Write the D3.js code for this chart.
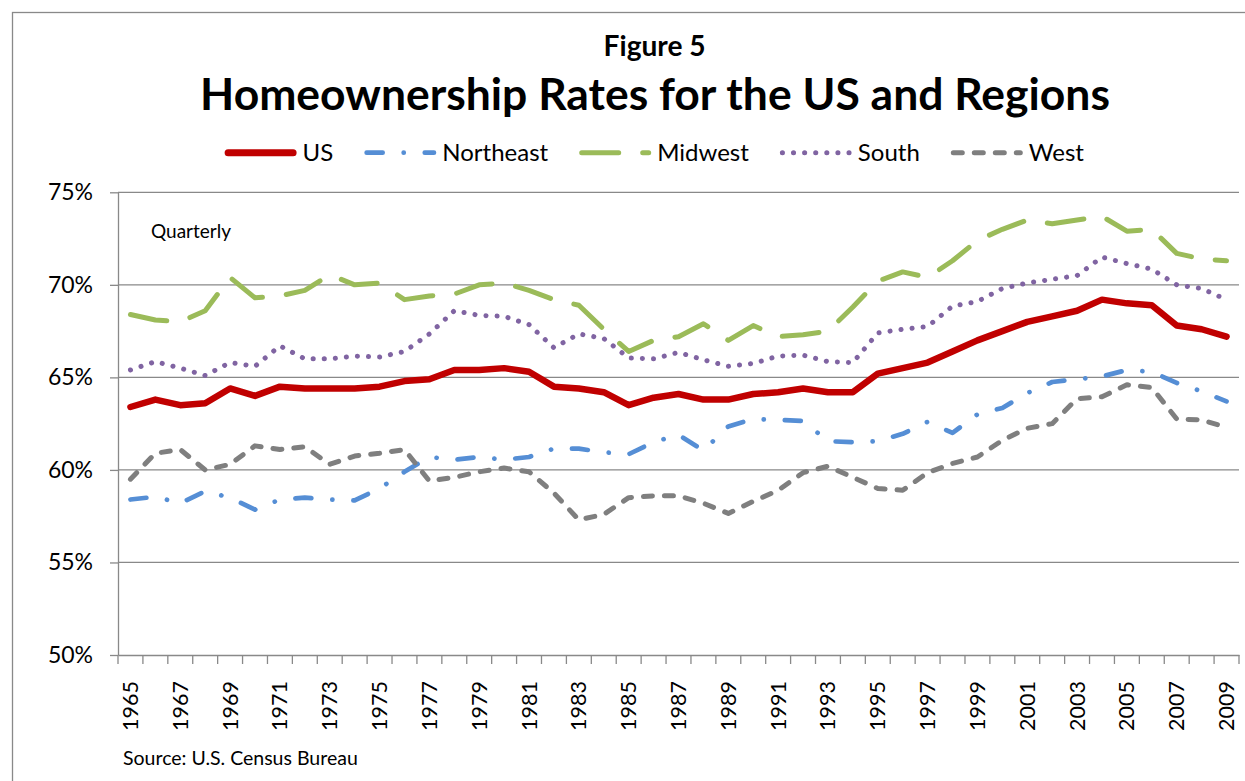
<!DOCTYPE html>
<html>
<head>
<meta charset="utf-8">
<script src="https://cdn.jsdelivr.net/npm/d3@7"></script>
<style>
  body { margin: 0; background: #fff; }
  svg { display: block; font-family: Lato, "Open Sans", sans-serif; }
</style>
</head>
<body>
<svg id="chart" width="1245" height="781"></svg>
<script>
// годы (категории оси X)
const years = [1965, 1966, 1967, 1968, 1969, 1970, 1971, 1972, 1973, 1974,
    1975, 1976, 1977, 1978, 1979, 1980, 1981, 1982, 1983, 1984,
    1985, 1986, 1987, 1988, 1989, 1990, 1991, 1992, 1993, 1994,
    1995, 1996, 1997, 1998, 1999, 2000, 2001, 2002, 2003, 2004,
    2005, 2006, 2007, 2008, 2009];

// значения рядов, %
const us = [63.4, 63.8, 63.5, 63.6, 64.4, 64.0, 64.5, 64.4, 64.4, 64.4,
    64.5, 64.8, 64.9, 65.4, 65.4, 65.5, 65.3, 64.5, 64.4, 64.2,
    63.5, 63.9, 64.1, 63.8, 63.8, 64.1, 64.2, 64.4, 64.2, 64.2,
    65.2, 65.5, 65.8, 66.4, 67.0, 67.5, 68.0, 68.3, 68.6, 69.2,
    69.0, 68.9, 67.8, 67.6, 67.2];
const northeast = [58.4, 58.55, 58.2, 58.85, 58.5, 57.85, 58.4, 58.5, 58.4, 58.35,
    59.0, 59.9, 60.7, 60.55, 60.7, 60.55, 60.7, 61.15, 61.15, 60.95,
    60.85, 61.5, 61.9, 61.05, 62.35, 62.75, 62.7, 62.65, 61.55, 61.5,
    61.55, 61.95, 62.6, 62.0, 63.0, 63.35, 64.15, 64.75, 64.9, 65.05,
    65.4, 65.3, 64.7, 64.25, 63.7];
const midwest = [68.4, 68.1, 68.0, 68.6, 70.4, 69.3, 69.4, 69.7, 70.55, 70.0,
    70.1, 69.2, 69.4, 69.5, 70.0, 70.1, 69.7, 69.2, 68.9, 67.6,
    66.4, 67.0, 67.2, 67.9, 67.0, 67.8, 67.2, 67.3, 67.5, 68.8,
    70.2, 70.7, 70.4, 71.3, 72.4, 73.0, 73.5, 73.3, 73.5, 73.7,
    72.9, 73.0, 71.7, 71.4, 71.3];
const south = [65.4, 65.85, 65.5, 65.1, 65.8, 65.6, 66.7, 66.0, 66.0, 66.15,
    66.1, 66.4, 67.35, 68.6, 68.35, 68.3, 67.85, 66.6, 67.35, 67.1,
    66.05, 66.0, 66.35, 65.95, 65.6, 65.75, 66.15, 66.2, 65.85, 65.8,
    67.4, 67.6, 67.75, 68.85, 69.1, 69.8, 70.1, 70.3, 70.5, 71.5,
    71.15, 70.85, 70.0, 69.8, 69.2];
const west = [59.5, 60.9, 61.1, 60.0, 60.3, 61.3, 61.1, 61.25, 60.3, 60.75,
    60.9, 61.1, 59.4, 59.6, 59.9, 60.1, 59.9, 58.75, 57.3, 57.6,
    58.5, 58.6, 58.6, 58.2, 57.65, 58.3, 58.9, 59.85, 60.2, 59.6,
    59.0, 58.9, 59.85, 60.35, 60.7, 61.6, 62.25, 62.5, 63.85, 63.95,
    64.6, 64.45, 62.75, 62.7, 62.3];

const seriesNames = ["US", "Northeast", "Midwest", "South", "West"];
const yTicks = [50, 55, 60, 65, 70, 75];
const yearLabels = years.filter((d, i) => i % 2 === 0);

// стили линий
const styles = {
    "US": {color: "#C00000", width: 6.5, dash: null},
    "Northeast": {color: "#558ED5", width: 4.7, dash: "16,21,0.1,21"},
    "Midwest": {color: "#9BBB59", width: 5, dash: "37,24"},
    "South": {color: "#8064A2", width: 5, dash: "0.1,11"},
    "West": {color: "#7F7F7F", width: 5, dash: "9,12"}
};
const values = {"US": us, "Northeast": northeast, "Midwest": midwest, "South": south, "West": west};

const gray = "#898989";
const svg = d3.select("#chart");

// рамка всей картинки
svg.append("rect")
    .attr("x", 12.5).attr("y", 12.5)
    .attr("width", 1260).attr("height", 800)
    .attr("fill", "none").attr("stroke", gray).attr("stroke-width", 1.3);

let x = d3.scaleBand().domain(years).range([118, 1239]);
let y = d3.scaleLinear().domain([50, 75]).range([655, 192.3]);

// сетка
svg.append("g").selectAll("line")
    .data(yTicks.slice(1))
    .enter().append("line")
    .attr("x1", x.range()[0]).attr("x2", x.range()[1])
    .attr("y1", d => y(d)).attr("y2", d => y(d))
    .attr("stroke", gray).attr("stroke-width", 1.3);

// ось Y
let yAxis = svg.append("g")
    .attr("transform", "translate(118,0)")
    .call(d3.axisLeft(y).tickValues(yTicks).tickSize(8).tickSizeOuter(0)
        .tickPadding(17).tickFormat(d => d + "%"));
yAxis.selectAll("path, line").attr("stroke", gray).attr("stroke-width", 1.3);
yAxis.selectAll("text").attr("font-size", 23).attr("fill", "#000")
    .attr("font-family", "Lato, sans-serif");

// ось X
let xAxis = svg.append("g")
    .attr("transform", "translate(0," + y(50) + ")")
    .call(d3.axisBottom(x).tickValues(yearLabels).tickSize(0).tickSizeOuter(0));
xAxis.select(".domain").attr("stroke", gray).attr("stroke-width", 1.3);
xAxis.selectAll("text")
    .attr("font-size", 21.5).attr("fill", "#000")
    .attr("font-family", "Lato, sans-serif")
    .attr("transform", "rotate(-90)")
    .attr("x", -26).attr("y", 0).attr("dy", "0.35em")
    .attr("text-anchor", "end");
// риски между категориями
xAxis.append("g").selectAll("line")
    .data(years.map(d => x(d)).concat([x.range()[1]]))
    .enter().append("line")
    .attr("x1", d => d).attr("x2", d => d)
    .attr("y1", 0).attr("y2", 9)
    .attr("stroke", gray).attr("stroke-width", 1.3);

// линии рядов
let line = d3.line()
    .x((d, i) => x(years[i]) + x.bandwidth() / 2)
    .y(d => y(d));

svg.append("g").selectAll("path")
    .data(seriesNames)
    .enter().append("path")
    .attr("d", d => line(values[d]))
    .attr("fill", "none")
    .attr("stroke", d => styles[d].color)
    .attr("stroke-width", d => styles[d].width)
    .attr("stroke-dasharray", d => styles[d].dash)
    .attr("stroke-linecap", "round")
    .attr("stroke-linejoin", "round");

// подгонка ширины текста
function fitWidth(sel, w) {
    let fs = +sel.attr("font-size");
    let len = sel.node().getComputedTextLength();
    sel.attr("font-size", fs * w / len);
}

// заголовки
let fig = svg.append("text")
    .attr("x", 654.6).attr("y", 55.7)
    .attr("text-anchor", "middle").attr("font-weight", "bold")
    .attr("font-size", 28).text("Figure 5");
fitWidth(fig, 102);

let title = svg.append("text")
    .attr("x", 655).attr("y", 109.5)
    .attr("text-anchor", "middle").attr("font-weight", "bold")
    .attr("font-size", 42).text("Homeownership Rates for the US and Regions");
fitWidth(title, 910);

// легенда
const legendY = 152.7, symLen = 72, textGap = 6, itemGap = 31;
let legend = svg.append("g");
let items = legend.selectAll("g")
    .data(seriesNames)
    .enter().append("g");
items.append("text")
    .attr("font-size", 24)
    .attr("x", symLen + textGap)
    .attr("y", legendY)
    .attr("dy", "0.35em")
    .text(d => d);
let pos = 0, offsets = [];
items.each(function () {
    offsets.push(pos);
    pos += symLen + textGap + d3.select(this).select("text").node().getComputedTextLength() + itemGap;
});
let total = pos - itemGap;
let start = 654.3 - total / 2;
items.attr("transform", (d, i) => "translate(" + (start + offsets[i]) + ",0)");
items.append("line")
    .attr("x1", d => styles[d].dash ? styles[d].width / 2 : 3.5)
    .attr("x2", d => symLen - (styles[d].dash ? styles[d].width / 2 : 3.5))
    .attr("y1", legendY).attr("y2", legendY)
    .attr("stroke", d => styles[d].color)
    .attr("stroke-width", d => d === "US" ? 7 : styles[d].width)
    .attr("stroke-dasharray", d => styles[d].dash)
    .attr("stroke-linecap", "round");

// подписи
svg.append("text")
    .attr("x", 151).attr("y", 238.3)
    .attr("font-size", 19).text("Quarterly");
svg.append("text")
    .attr("x", 123).attr("y", 765)
    .attr("font-size", 19.5).text("Source: U.S. Census Bureau");
</script>
</body>
</html>
